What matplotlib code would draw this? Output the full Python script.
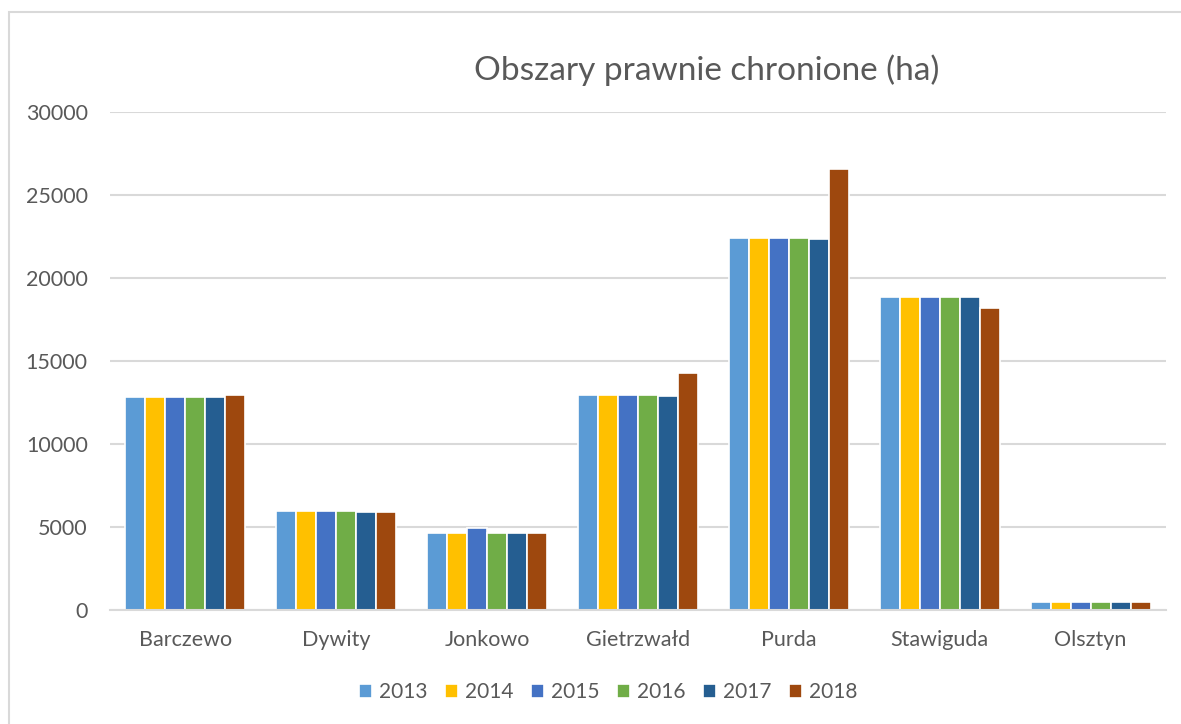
import matplotlib
matplotlib.use("Agg")
import matplotlib.pyplot as plt
import matplotlib.patches as patches
import numpy as np

plt.rcParams['font.family'] = ['Lato', 'DejaVu Sans']

gminy = ['Barczewo', 'Dywity', 'Jonkowo', 'Gietrzwałd', 'Purda', 'Stawiguda', 'Olsztyn']
lata = ['2013', '2014', '2015', '2016', '2017', '2018']

# wartosci w ha
v2013 = [12830, 5930, 4590, 12960, 22400, 18820, 470]
v2014 = [12830, 5930, 4590, 12960, 22400, 18820, 470]
v2015 = [12830, 5930, 4890, 12960, 22400, 18820, 470]
v2016 = [12830, 5930, 4590, 12960, 22400, 18820, 470]
v2017 = [12830, 5870, 4590, 12870, 22340, 18820, 470]
v2018 = [12910, 5900, 4600, 14270, 26550, 18180, 470]
dane = [v2013, v2014, v2015, v2016, v2017, v2018]

kolory = ['#5B9BD5', '#FFC000', '#4472C4', '#70AD47', '#255E91', '#9E480E']
szary = '#595959'

W, H = 1181, 724
fig = plt.figure(figsize=(W / 100, H / 100), dpi=100)
ax = fig.add_axes([110 / W, 1 - 609.5 / H, (1166 - 110) / W, (609.5 - 112) / H])

# ramka wykresu
fig.patches.append(patches.Rectangle((9.5 / W, -0.1), 1.2, 1 - 12.5 / H + 0.1,
                                     transform=fig.transFigure, fill=False,
                                     edgecolor='#D9D9D9', linewidth=1.5))

x = np.arange(len(gminy))
szer = 0.1325
for i, (rok, wart) in enumerate(zip(lata, dane)):
    ax.bar(x + (i - 2.5) * szer, wart, width=szer, color=kolory[i],
           edgecolor='white', linewidth=1.2, label=rok, zorder=3)

ax.set_xlim(-0.5, len(gminy) - 0.5)
ax.set_ylim(0, 30000)
ax.set_yticks(range(0, 30001, 5000))
ax.yaxis.grid(True, color='#D9D9D9', linewidth=1.5, zorder=0)
for s in ['top', 'right', 'left']:
    ax.spines[s].set_visible(False)
ax.spines['bottom'].set_color('#D9D9D9')
ax.spines['bottom'].set_linewidth(1.5)
ax.spines['bottom'].set_zorder(4)
ax.tick_params(axis='both', length=0, labelsize=15.5, colors=szary)
ax.tick_params(axis='x', pad=15)
ax.tick_params(axis='y', pad=16)
ax.set_xticks(x)
ax.set_xticklabels(gminy)

fig.text(707 / W, 1 - 70 / H, 'Obszary prawnie chronione (ha)', ha='center', va='center',
         fontsize=24, color=szary)

fig.legend(loc='center', bbox_to_anchor=(608 / W, 1 - 692 / H), ncol=6, frameon=False,
           fontsize=15, labelcolor=szary, handlelength=0.65, handleheight=0.65,
           handletextpad=0.3, columnspacing=0.85)

fig.savefig('out.png', dpi=100)
